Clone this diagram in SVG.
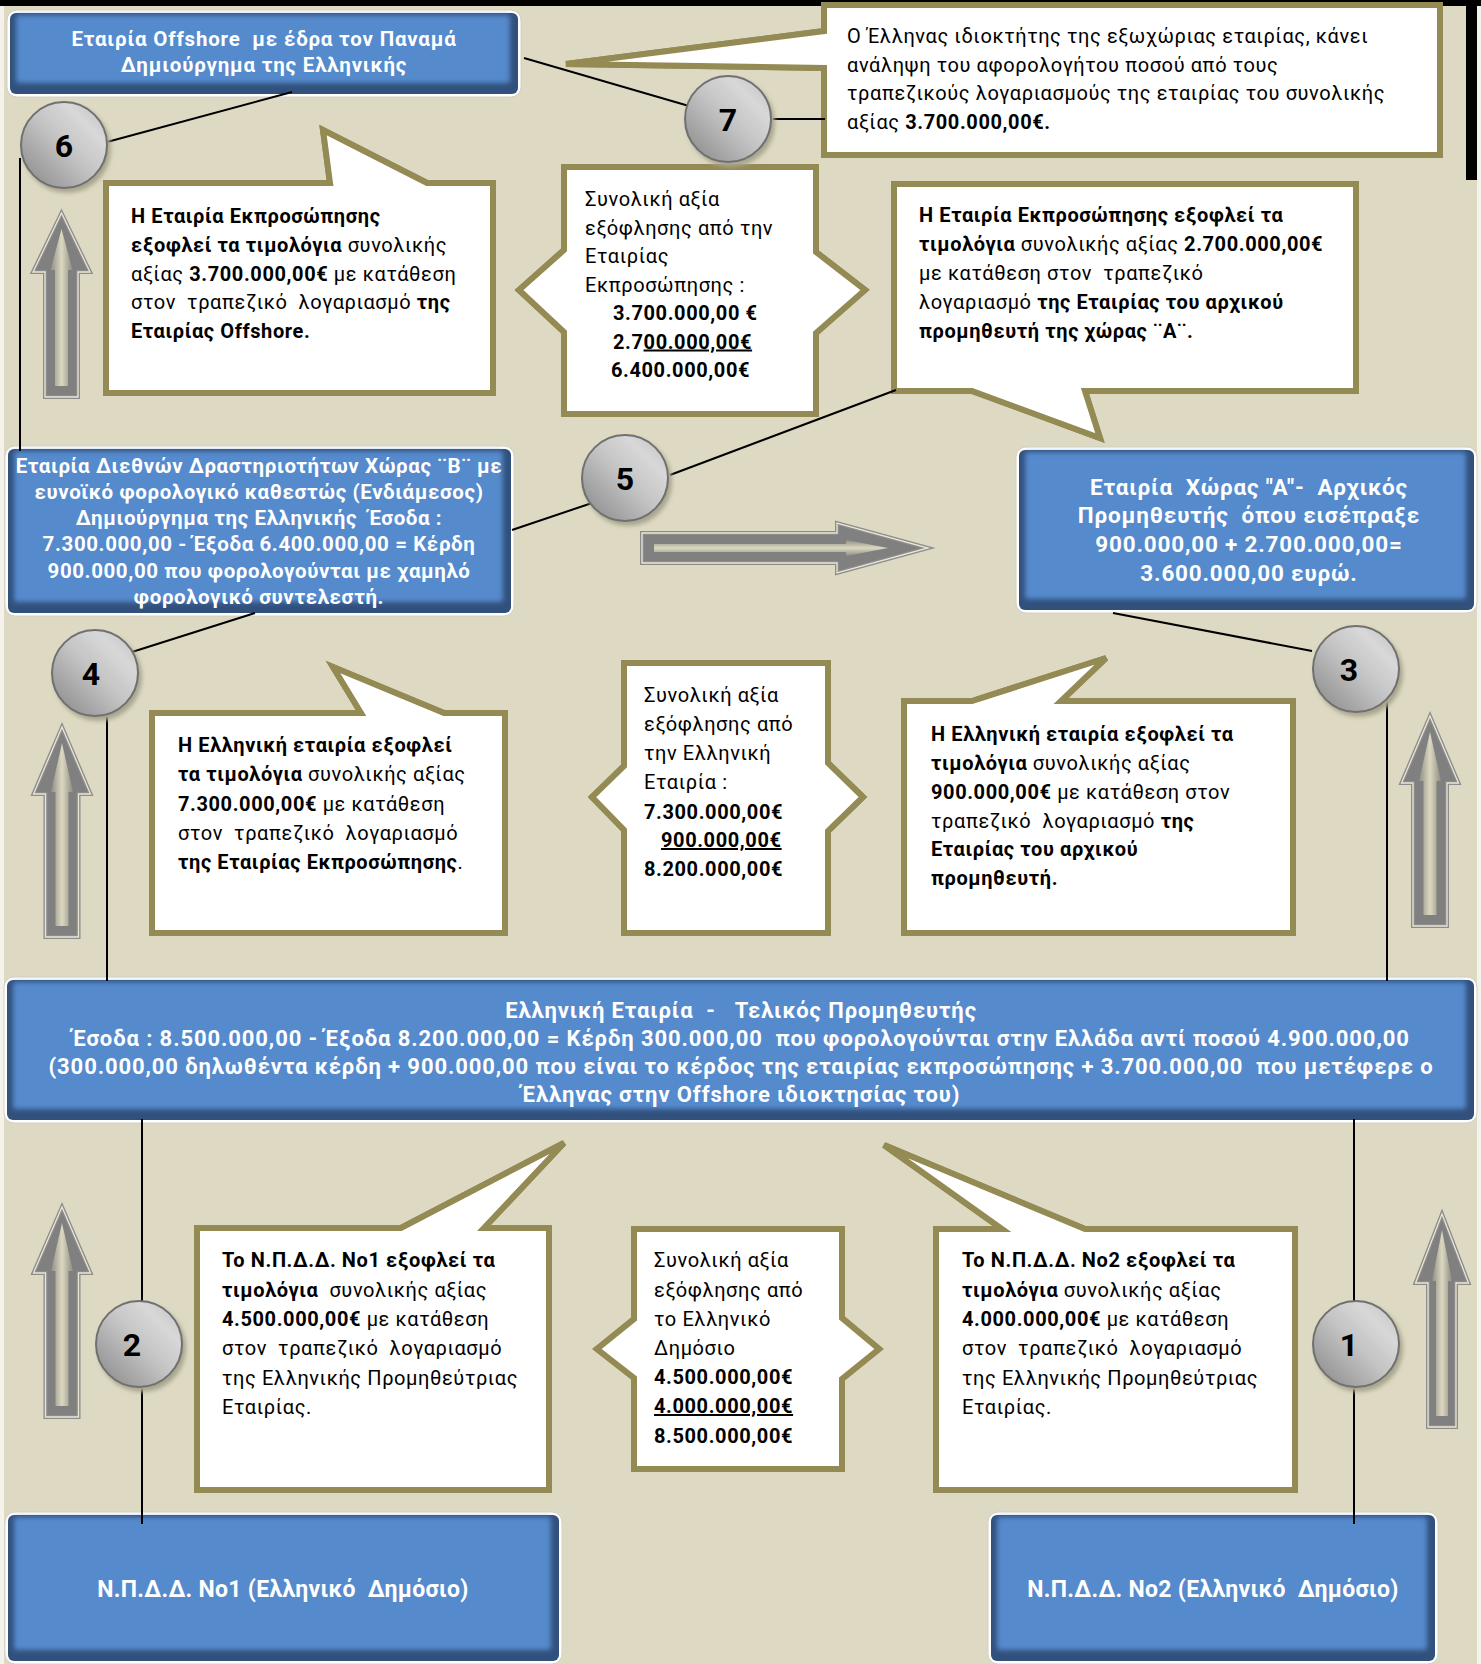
<svg xmlns="http://www.w3.org/2000/svg" width="1481" height="1664" viewBox="0 0 1481 1664" xml:space="preserve">
<defs>
<style>
text{white-space:pre}
.t{font-family:Roboto,"Noto Sans","DejaVu Sans",sans-serif;font-size:20px;letter-spacing:0.6px;fill:#000}
.b{font-weight:700}
.u{text-decoration:underline}
.w{font-family:Roboto,"Noto Sans","DejaVu Sans",sans-serif;font-weight:700;fill:#fff;text-anchor:middle}
.n{font-family:Roboto,"Noto Sans","DejaVu Sans",sans-serif;font-weight:700;font-size:32px;fill:#000;text-anchor:middle}
.gl{fill:#fff;stroke:#d2d0c4;stroke-width:1}
.dk{fill:#31507c}
.bl{fill:#558acd;filter:url(#soft)}
.co{fill:#fff;stroke:#948a54;stroke-width:6;stroke-linejoin:miter}
.co2{fill:none;stroke:#fff;stroke-width:2.2;stroke-linejoin:miter}
.ao{fill:#808080;stroke:#8c8c8c;stroke-width:4;stroke-linejoin:miter}
.ao2{fill:none;stroke:#ebe7d5;stroke-width:1.3}
.ai{fill:url(#ag)}
.aih{fill:url(#agh)}
.cn{stroke:#000;stroke-width:2;fill:none}
.ci{fill:url(#cg);stroke:#707070;stroke-width:2}
.cs{fill:#a9a58f;filter:url(#sh)}
</style>
<filter id="soft" x="-10%" y="-20%" width="120%" height="140%"><feGaussianBlur stdDeviation="2.5"/></filter>
<filter id="sh" x="-30%" y="-30%" width="160%" height="160%"><feGaussianBlur stdDeviation="2"/></filter>
<linearGradient id="cg" x1="0" y1="1" x2="1" y2="0"><stop offset="0" stop-color="#858585"/><stop offset="0.5" stop-color="#c4c4c4"/><stop offset="0.75" stop-color="#d8d8d8"/><stop offset="1" stop-color="#bdbdbd"/></linearGradient>
<linearGradient id="ag" x1="0" y1="0" x2="1" y2="0"><stop offset="0" stop-color="#8e8d84"/><stop offset="0.5" stop-color="#dcd8c0"/><stop offset="1" stop-color="#8e8d84"/></linearGradient>
<linearGradient id="agh" x1="0" y1="0" x2="0" y2="1"><stop offset="0" stop-color="#8e8d84"/><stop offset="0.5" stop-color="#dcd8c0"/><stop offset="1" stop-color="#8e8d84"/></linearGradient>
</defs>

<g id="background">
<rect x="0" y="0" width="1481" height="1664" fill="#ddd9c3"/>
<rect x="0" y="0" width="4" height="1664" fill="#f4f2ea"/>
<rect x="1477" y="0" width="4" height="1664" fill="#f4f2ea"/>
<rect x="0" y="0" width="1481" height="6" fill="#000"/>
<rect x="1466" y="0" width="11" height="180" fill="#000"/>
</g>

<g id="arrows">
<polygon class="ao" points="61.5,213 90,272 78,272 78,397 45,397 45,272 33,272"/>
<polygon class="ao2" points="61.5,213 90,272 78,272 78,397 45,397 45,272 33,272"/>
<polygon class="ai" points="61.5,229 72.5,270 68,270 68,386 55,386 55,270 50.5,270"/>
<polygon class="ao" points="62,727 90.5,794 78.5,794 78.5,937 45.5,937 45.5,794 33.5,794"/>
<polygon class="ao2" points="62,727 90.5,794 78.5,794 78.5,937 45.5,937 45.5,794 33.5,794"/>
<polygon class="ai" points="62,743 73,792 68.5,792 68.5,926 55.5,926 55.5,792 51,792"/>
<polygon class="ao" points="62,1207 90.5,1273 78.5,1273 78.5,1417 45.5,1417 45.5,1273 33.5,1273"/>
<polygon class="ao2" points="62,1207 90.5,1273 78.5,1273 78.5,1417 45.5,1417 45.5,1273 33.5,1273"/>
<polygon class="ai" points="62,1223 73,1271 68.5,1271 68.5,1406 55.5,1406 55.5,1271 51,1271"/>
<polygon class="ao" points="1430,716 1458.5,783 1447,783 1447,926 1413,926 1413,783 1401.5,783"/>
<polygon class="ao2" points="1430,716 1458.5,783 1447,783 1447,926 1413,926 1413,783 1401.5,783"/>
<polygon class="ai" points="1430,732 1441,781 1436.5,781 1436.5,915 1423.5,915 1423.5,781 1419,781"/>
<polygon class="ao" points="1442,1214 1468.5,1283 1456,1283 1456,1427 1428,1427 1428,1283 1415.5,1283"/>
<polygon class="ao2" points="1442,1214 1468.5,1283 1456,1283 1456,1427 1428,1427 1428,1283 1415.5,1283"/>
<polygon class="ai" points="1442,1230 1452,1281 1448,1281 1448,1416 1436,1416 1436,1281 1432,1281"/>
<polygon class="ao" points="642,533 837,533 837,523 928,548 837,573 837,563 642,563"/>
<polygon class="ao2" points="642,533 837,533 837,523 928,548 837,573 837,563 642,563"/>
<polygon class="aih" points="654,544 846,544 846,540 888,548 846,556 846,552 654,552"/>
</g>

<g id="callout-c1">
<path id="p1" class="co" d="M106,183 L330,183 L323,130 L427,183 L493,183 L493,393 L106,393 Z"/>
<use href="#p1" class="co2"/>
<text class="t" x="131" y="223"><tspan class="b">Η Εταιρία Εκπροσώπησης</tspan></text>
<text class="t" x="131" y="252"><tspan class="b">εξοφλεί τα τιμολόγια</tspan> συνολικής</text>
<text class="t" x="131" y="280.5">αξίας <tspan class="b">3.700.000,00€</tspan> με κατάθεση</text>
<text class="t" x="131" y="309">στον  τραπεζικό  λογαριασμό <tspan class="b">της</tspan></text>
<text class="t" x="131" y="338"><tspan class="b">Εταιρίας Offshore.</tspan></text>
</g>

<g id="callout-c2">
<path id="p2" class="co" d="M564,167 L816,167 L816,252 L865,290 L816,333 L816,414 L564,414 L564,332 L519,290 L564,250 Z"/>
<use href="#p2" class="co2"/>
<text class="t" x="585" y="206">Συνολική αξία</text>
<text class="t" x="585" y="234.5">εξόφλησης από την</text>
<text class="t" x="585" y="263">Εταιρίας</text>
<text class="t" x="585" y="291.5">Εκπροσώπησης :</text>
<text class="t b" x="613" y="320">3.700.000,00 €</text>
<text class="t b" x="613" y="348.5">2.7<tspan class="u">00.000,00€</tspan></text>
<text class="t b" x="611" y="377">6.400.000,00€</text>
</g>

<g id="callout-c3">
<path id="p3" class="co" d="M824,5 L1440,5 L1440,155 L824,155 L824,68 L566,64 L824,31 Z"/>
<use href="#p3" class="co2"/>
<text class="t" x="847" y="42.5">Ο Έλληνας ιδιοκτήτης της εξωχώριας εταιρίας, κάνει</text>
<text class="t" x="847" y="71.5">ανάληψη του αφορολογήτου ποσού από τους</text>
<text class="t" x="847" y="100">τραπεζικούς λογαριασμούς της εταιρίας του συνολικής</text>
<text class="t" x="847" y="128.5">αξίας <tspan class="b">3.700.000,00€.</tspan></text>
</g>

<g id="callout-c4">
<path id="p4" class="co" d="M894,184 L1356,184 L1356,391 L1085,391 L1100,438 L972,391 L894,391 Z"/>
<use href="#p4" class="co2"/>
<text class="t" x="919" y="222"><tspan class="b">Η Εταιρία Εκπροσώπησης εξοφλεί τα</tspan></text>
<text class="t" x="919" y="251"><tspan class="b">τιμολόγια</tspan> συνολικής αξίας <tspan class="b">2.700.000,00€</tspan></text>
<text class="t" x="919" y="280">με κατάθεση στον  τραπεζικό</text>
<text class="t" x="919" y="308.5">λογαριασμό <tspan class="b">της Εταιρίας του αρχικού</tspan></text>
<text class="t" x="919" y="337.5"><tspan class="b">προμηθευτή της χώρας ¨Α¨.</tspan></text>
</g>

<g id="callout-c5">
<path id="p5" class="co" d="M152,713 L361,713 L333,667 L444,713 L505,713 L505,933 L152,933 Z"/>
<use href="#p5" class="co2"/>
<text class="t" x="178" y="752"><tspan class="b">Η Ελληνική εταιρία εξοφλεί</tspan></text>
<text class="t" x="178" y="781"><tspan class="b">τα τιμολόγια</tspan> συνολικής αξίας</text>
<text class="t" x="178" y="810.5"><tspan class="b">7.300.000,00€</tspan> με κατάθεση</text>
<text class="t" x="178" y="840">στον  τραπεζικό  λογαριασμό</text>
<text class="t" x="178" y="869"><tspan class="b">της Εταιρίας Εκπροσώπησης</tspan>.</text>
</g>

<g id="callout-c6">
<path id="p6" class="co" d="M624,663 L828,663 L828,763 L863,797 L828,831 L828,933 L624,933 L624,830 L592,797 L624,766 Z"/>
<use href="#p6" class="co2"/>
<text class="t" x="644" y="702">Συνολική αξία</text>
<text class="t" x="644" y="731">εξόφλησης από</text>
<text class="t" x="644" y="760">την Ελληνική</text>
<text class="t" x="644" y="789">Εταιρία :</text>
<text class="t b" x="644" y="818.5">7.300.000,00€</text>
<text class="t b" x="661" y="847"><tspan class="u">900.000,00€</tspan></text>
<text class="t b" x="644" y="876">8.200.000,00€</text>
</g>

<g id="callout-c7">
<path id="p7" class="co" d="M904,701 L972,701 L1106,658 L1061,701 L1293,701 L1293,933 L904,933 Z"/>
<use href="#p7" class="co2"/>
<text class="t" x="931" y="741"><tspan class="b">Η Ελληνική εταιρία εξοφλεί τα</tspan></text>
<text class="t" x="931" y="770"><tspan class="b">τιμολόγια</tspan> συνολικής αξίας</text>
<text class="t" x="931" y="799"><tspan class="b">900.000,00€</tspan> με κατάθεση στον</text>
<text class="t" x="931" y="827.5">τραπεζικό  λογαριασμό <tspan class="b">της</tspan></text>
<text class="t" x="931" y="856"><tspan class="b">Εταιρίας του αρχικού</tspan></text>
<text class="t" x="931" y="885"><tspan class="b">προμηθευτή.</tspan></text>
</g>

<g id="callout-c8">
<path id="p8" class="co" d="M197,1228 L401,1228 L564,1143 L484,1228 L549,1228 L549,1490 L197,1490 Z"/>
<use href="#p8" class="co2"/>
<text class="t" x="222" y="1267"><tspan class="b">Το Ν.Π.Δ.Δ. Νο1 εξοφλεί τα</tspan></text>
<text class="t" x="222" y="1296.5"><tspan class="b">τιμολόγια</tspan>  συνολικής αξίας</text>
<text class="t" x="222" y="1326"><tspan class="b">4.500.000,00€</tspan> με κατάθεση</text>
<text class="t" x="222" y="1355">στον  τραπεζικό  λογαριασμό</text>
<text class="t" x="222" y="1384.5">της Ελληνικής Προμηθεύτριας</text>
<text class="t" x="222" y="1413.5">Εταιρίας.</text>
</g>

<g id="callout-c9">
<path id="p9" class="co" d="M634,1229 L842,1229 L842,1318 L879,1349 L842,1379 L842,1469 L634,1469 L634,1378 L597,1349 L634,1319 Z"/>
<use href="#p9" class="co2"/>
<text class="t" x="654" y="1267">Συνολική αξία</text>
<text class="t" x="654" y="1296.5">εξόφλησης από</text>
<text class="t" x="654" y="1326">το Ελληνικό</text>
<text class="t" x="654" y="1355">Δημόσιο</text>
<text class="t b" x="654" y="1384">4.500.000,00€</text>
<text class="t b" x="654" y="1413"><tspan class="u">4.000.000,00€</tspan></text>
<text class="t b" x="654" y="1442.5">8.500.000,00€</text>
</g>

<g id="callout-c10">
<path id="p10" class="co" d="M936,1229 L1002,1229 L884,1145 L1085,1229 L1295,1229 L1295,1490 L936,1490 Z"/>
<use href="#p10" class="co2"/>
<text class="t" x="962" y="1267"><tspan class="b">Το Ν.Π.Δ.Δ. Νο2 εξοφλεί τα</tspan></text>
<text class="t" x="962" y="1296.5"><tspan class="b">τιμολόγια</tspan> συνολικής αξίας</text>
<text class="t" x="962" y="1326"><tspan class="b">4.000.000,00€</tspan> με κατάθεση</text>
<text class="t" x="962" y="1355">στον  τραπεζικό  λογαριασμό</text>
<text class="t" x="962" y="1384.5">της Ελληνικής Προμηθεύτριας</text>
<text class="t" x="962" y="1413.5">Εταιρίας.</text>
</g>

<g id="box-offshore">
<rect class="gl" x="7" y="10" width="514" height="87" rx="10"/>
<rect class="dk" x="10" y="13" width="508" height="81" rx="6"/>
<rect class="bl" x="16" y="15" width="494" height="68" rx="3"/>
<text class="w" x="264" y="46" font-size="20.5" letter-spacing="0.8">Εταιρία Offshore  με έδρα τον Παναμά</text>
<text class="w" x="264" y="72" font-size="20.5" letter-spacing="0.8">Δημιούργημα της Ελληνικής</text>
</g>

<g id="box-intermediate">
<rect class="gl" x="5" y="446" width="509" height="170" rx="10"/>
<rect class="dk" x="8" y="449" width="503" height="164" rx="6"/>
<rect class="bl" x="14" y="451" width="489" height="151" rx="3"/>
<text class="w" x="259" y="473" font-size="20.5" letter-spacing="0.6">Εταιρία Διεθνών Δραστηριοτήτων Χώρας ¨Β¨ με</text>
<text class="w" x="259" y="499" font-size="20.5" letter-spacing="0.6">ευνοϊκό φορολογικό καθεστώς (Ενδιάμεσος)</text>
<text class="w" x="259" y="525" font-size="20.5" letter-spacing="0.6">Δημιούργημα της Ελληνικής  Έσοδα :</text>
<text class="w" x="259" y="551" font-size="20.5" letter-spacing="0.6">7.300.000,00 - Έξοδα 6.400.000,00 = Κέρδη</text>
<text class="w" x="259" y="578" font-size="20.5" letter-spacing="0.6">900.000,00 που φορολογούνται με χαμηλό</text>
<text class="w" x="259" y="604" font-size="20.5" letter-spacing="0.6">φορολογικό συντελεστή.</text>
</g>

<g id="box-supplier-a">
<rect class="gl" x="1016" y="447" width="461" height="166" rx="10"/>
<rect class="dk" x="1019" y="450" width="455" height="160" rx="6"/>
<rect class="bl" x="1025" y="452" width="441" height="147" rx="3"/>
<text class="w" x="1249" y="495" font-size="22.5" letter-spacing="0.8">Εταιρία  Χώρας "Α"-  Αρχικός</text>
<text class="w" x="1249" y="522.5" font-size="22.5" letter-spacing="0.8">Προμηθευτής  όπου εισέπραξε</text>
<text class="w" x="1249" y="551.5" font-size="22.5" letter-spacing="0.8">900.000,00 + 2.700.000,00=</text>
<text class="w" x="1249" y="581" font-size="22.5" letter-spacing="0.8">3.600.000,00 ευρώ.</text>
</g>

<g id="box-greek-company">
<rect class="gl" x="4" y="977" width="1473" height="146" rx="10"/>
<rect class="dk" x="7" y="980" width="1467" height="140" rx="6"/>
<rect class="bl" x="13" y="982" width="1453" height="127" rx="3"/>
<text class="w" x="741" y="1018" font-size="22" letter-spacing="0.9">Ελληνική Εταιρία  -   Τελικός Προμηθευτής</text>
<text class="w" x="741" y="1046" font-size="22" letter-spacing="0.9">Έσοδα : 8.500.000,00 - Έξοδα 8.200.000,00 = Κέρδη 300.000,00  που φορολογούνται στην Ελλάδα αντί ποσού 4.900.000,00</text>
<text class="w" x="741" y="1074" font-size="22" letter-spacing="0.9">(300.000,00 δηλωθέντα κέρδη + 900.000,00 που είναι το κέρδος της εταιρίας εκπροσώπησης + 3.700.000,00  που μετέφερε ο</text>
<text class="w" x="741" y="1102" font-size="22" letter-spacing="0.9">Έλληνας στην Offshore ιδιοκτησίας του)</text>
</g>

<g id="box-npdd1">
<rect class="gl" x="5" y="1512" width="557" height="152" rx="10"/>
<rect class="dk" x="8" y="1515" width="551" height="146" rx="6"/>
<rect class="bl" x="14" y="1517" width="537" height="133" rx="3"/>
<text class="w" x="283" y="1597" font-size="23" letter-spacing="0.3">Ν.Π.Δ.Δ. Νο1 (Ελληνικό  Δημόσιο)</text>
</g>

<g id="box-npdd2">
<rect class="gl" x="988" y="1512" width="450" height="152" rx="10"/>
<rect class="dk" x="991" y="1515" width="444" height="146" rx="6"/>
<rect class="bl" x="997" y="1517" width="430" height="133" rx="3"/>
<text class="w" x="1213" y="1597" font-size="23" letter-spacing="0.3">Ν.Π.Δ.Δ. Νο2 (Ελληνικό  Δημόσιο)</text>
</g>

<g id="connectors">
<line class="cn" x1="292" y1="92" x2="107" y2="142"/>
<line class="cn" x1="20" y1="158" x2="20" y2="451"/>
<line class="cn" x1="524" y1="58" x2="689" y2="106"/>
<line class="cn" x1="773" y1="119" x2="825" y2="119"/>
<line class="cn" x1="512" y1="530" x2="592" y2="503"/>
<line class="cn" x1="670" y1="475" x2="896" y2="390"/>
<line class="cn" x1="255" y1="613" x2="132" y2="652"/>
<line class="cn" x1="107" y1="714" x2="107" y2="981"/>
<line class="cn" x1="1113" y1="613" x2="1312" y2="651"/>
<line class="cn" x1="1387" y1="702" x2="1387" y2="981"/>
<line class="cn" x1="142" y1="1119" x2="142" y2="1524"/>
<line class="cn" x1="1354" y1="1119" x2="1354" y2="1524"/>
</g>

<g id="step-6"><circle class="cs" cx="67" cy="149" r="44"/><circle class="ci" cx="64" cy="145" r="43"/><text class="n" x="64" y="157">6</text></g>
<g id="step-7"><circle class="cs" cx="731" cy="123" r="44"/><circle class="ci" cx="728" cy="119" r="43"/><text class="n" x="728" y="131">7</text></g>
<g id="step-5"><circle class="cs" cx="628" cy="482" r="44"/><circle class="ci" cx="625" cy="478" r="43"/><text class="n" x="625" y="490">5</text></g>
<g id="step-4"><circle class="cs" cx="98" cy="677" r="44"/><circle class="ci" cx="95" cy="673" r="43"/><text class="n" x="91" y="685">4</text></g>
<g id="step-3"><circle class="cs" cx="1359" cy="673" r="44"/><circle class="ci" cx="1356" cy="669" r="43"/><text class="n" x="1349" y="681">3</text></g>
<g id="step-2"><circle class="cs" cx="142" cy="1348" r="44"/><circle class="ci" cx="139" cy="1344" r="43"/><text class="n" x="132" y="1356">2</text></g>
<g id="step-1"><circle class="cs" cx="1359" cy="1348" r="44"/><circle class="ci" cx="1356" cy="1344" r="43"/><text class="n" x="1349" y="1356">1</text></g>
</svg>
